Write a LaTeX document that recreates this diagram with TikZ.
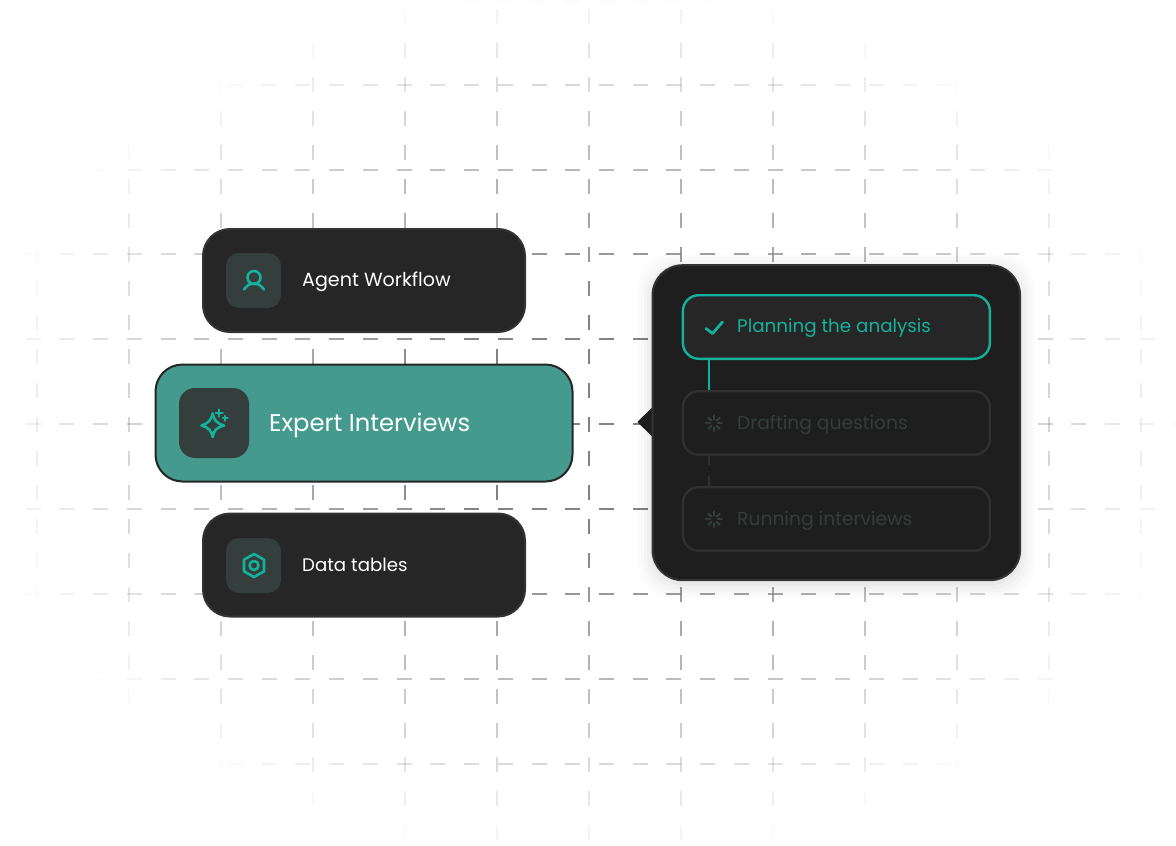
\documentclass[tikz,border=0pt]{standalone}
\usepackage{fontspec}
\setmainfont{Poppins}
\usetikzlibrary{calc}
\definecolor{cardfill}{HTML}{262626}
\definecolor{cardline}{HTML}{333333}
\definecolor{panelfill}{HTML}{1E1E1E}
\definecolor{tealmain}{HTML}{14B29C}
\definecolor{tealcard}{HTML}{459A8E}
\definecolor{iconbox}{HTML}{343F3D}
\definecolor{dimline}{HTML}{303030}
\definecolor{dimtext}{HTML}{343D3B}
\definecolor{gridgray}{HTML}{828282}
\tikzset{
  griddash/.style={line width=2pt,gridgray},
  card/.style={draw=cardline,fill=cardfill,line width=2pt,rounded corners=27pt,minimum width=322pt,minimum height=103pt,inner sep=0pt},
  maincard/.style={draw=cardfill,fill=tealcard,line width=2pt,rounded corners=27pt,minimum width=417pt,minimum height=117pt,inner sep=0pt},
  iconsq/.style={fill=iconbox,rounded corners=13pt,minimum size=55pt,inner sep=0pt},
  bigiconsq/.style={fill=iconbox,rounded corners=16pt,minimum size=70pt,inner sep=0pt},
  panel/.style={draw=cardline,fill=panelfill,line width=2pt,rounded corners=30pt,minimum width=367.5pt,minimum height=315pt,inner sep=0pt},
  stepdone/.style={draw=tealmain,fill=cardfill,line width=2.4pt,rounded corners=16pt,minimum width=307pt,minimum height=63.6pt,inner sep=0pt},
  stepdim/.style={draw=dimline,fill=panelfill,line width=2.4pt,rounded corners=16pt,minimum width=307pt,minimum height=63.6pt,inner sep=0pt},
  cardtext/.style={anchor=west,text=white,inner sep=0pt},
  maintext/.style={anchor=west,text=white,font=\fontsize{24.2}{28}\selectfont,inner sep=0pt},
  steptext/.style={anchor=west,inner sep=0pt},
  icon/.style={draw=tealmain,line width=2.6pt,line cap=round,line join=round},
  spin/.style={draw=dimtext,line width=2.2pt,line cap=round},
}
\begin{document}
\begin{tikzpicture}[x=1pt,y=-1pt]
\useasboundingbox (0,0) rectangle (1176,846);
\clip (0,0) rectangle (1176,846);
% faded dashed grid
\foreach \gy in {-0.5,84.5,169.5,254,339,423.5,508.5,593.5,678.5,763.5}{
  \foreach \k in {-6,...,28}{
    \pgfmathsetmacro{\dx}{228+33.73*\k}
    \pgfmathsetmacro{\rr}{sqrt(((\dx+7.5-588)/615)^2+((\gy-423.5)/440)^2)}
    \pgfmathsetmacro{\oo}{min(1,max(0,1-\rr)*1.35)}
    \ifdim\oo pt>0.005pt
      \draw[griddash,draw opacity=\oo] (\dx,\gy) -- ++(15,0);
    \fi
  }
}
\foreach \gx in {36.5,128.5,220.5,312.5,404.5,496.5,588.5,680.5,772.5,864.5,956.5,1048.5,1140.5}{
  \foreach \k in {-3,...,22}{
    \pgfmathsetmacro{\dy}{77+34*\k}
    \pgfmathsetmacro{\rr}{sqrt(((\gx-588)/615)^2+((\dy+7.5-423.5)/440)^2)}
    \pgfmathsetmacro{\oo}{min(1,max(0,1-\rr)*1.35)}
    \ifdim\oo pt>0.005pt
      \draw[griddash,draw opacity=\oo] (\gx,\dy) -- ++(0,15);
    \fi
  }
}
% left cards
\node[card] (agent) at (364,280.5) {};
\node[iconsq] (agenticon) at (253.5,280.5) {};
\node[cardtext,font=\fontsize{19.1}{22}\selectfont] (agenttext) at (302,281.5) {Agent Workflow};
\draw[icon] (254,277.5) circle (6.5);
\draw[icon] (244,289.5) .. controls (248,284) and (251,283.5) .. (254,283.5) .. controls (257,283.5) and (260,284) .. (264,289.5);

\node[maincard] (expert) at (364,423) {};
\node[bigiconsq] (experticon) at (214,423) {};
\node[maintext] (experttext) at (269,425) {Expert Interviews};
\draw[icon] (212.7,413.5) .. controls (214,420) and (216,423) .. (224,425.5) .. controls (216,428) and (214,430) .. (212.7,437) .. controls (211,430) and (209,428) .. (201.5,425.5) .. controls (209,423) and (211,420) .. (212.7,413.5) -- cycle;
\draw[icon,line width=2.2pt] (219.3,409.5) -- (219.3,416.5) (215.8,413) -- (222.8,413);
\draw[icon,line width=2.2pt] (225.3,416) -- (225.3,420.5) (223,418.2) -- (227.6,418.2);

\node[card] (data) at (364,565) {};
\node[iconsq] (dataicon) at (253.5,565.5) {};
\node[cardtext,font=\fontsize{18.2}{22}\selectfont] (datatext) at (302,565.2) {Data tables};
\draw[icon] (254,554) -- (264,559.7) -- (264,571.3) -- (254,577) -- (244,571.3) -- (244,559.7) -- cycle;
\draw[icon] (254,565.5) circle (4.5);
% panel shadow
\foreach \s/\o in {14/0.01,11/0.013,8/0.016,5/0.02,2/0.025}{
  \fill[black,fill opacity=\o,rounded corners=34pt] (652-\s,265-\s+3) rectangle (1021+\s,581+\s+3);
}
% pointer
\fill[panelfill,draw=panelfill,line width=1pt,line join=round] (653,407.5) -- (638,422) -- (653,436.5) -- cycle;
\node[panel] (board) at (836.3,422.7) {};
% connector x reference
\coordinate (cx) at (709,0);
\node[stepdone] (s1) at (836.4,327) {};
\node[stepdim] (s2) at (836.4,423) {};
\node[stepdim] (s3) at (836.4,519) {};
\draw[tealmain,line width=2.4pt] (cx |- s1.south) -- (cx |- s2.north);
\draw[dimline,line width=2.4pt,dash pattern=on 9pt off 11pt on 10pt off 4pt] (cx |- s2.south) -- (cx |- s3.north);
\node[steptext,text=tealmain,font=\fontsize{18.3}{22}\selectfont] (t1) at (737,328.5) {Planning the analysis};
\node[steptext,text=dimtext,font=\fontsize{18.65}{22}\selectfont] (t2) at (737,424.5) {Drafting questions};
\node[steptext,text=dimtext,font=\fontsize{18.7}{22}\selectfont] (t3) at (737,520.5) {Running interviews};
\draw[icon,line width=2.8pt] (706,328.5) -- (712.5,333.5) -- (722.5,322);
\foreach \cy in {423.3,519.3}{
  \foreach \a in {0,45,...,315}{
    \draw[spin] ($(714,\cy)+(\a:3.8)$) -- ($(714,\cy)+(\a:8)$);
  }
}
\end{tikzpicture}
\end{document}
